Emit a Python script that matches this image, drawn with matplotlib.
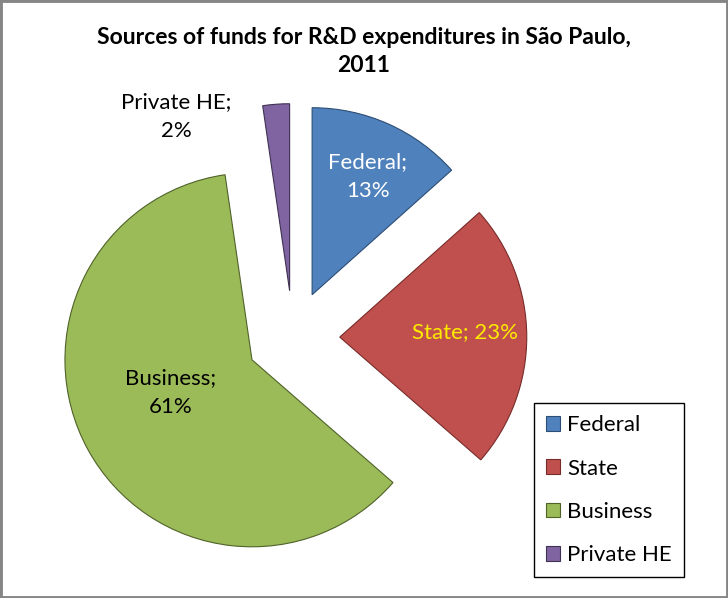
import numpy as np
import matplotlib.pyplot as plt
from matplotlib.patches import Rectangle

plt.rcParams['font.family'] = ['Lato', 'DejaVu Sans']

# data
categories = ["Federal", "State", "Business", "Private HE"]
shares = [13.4, 23.0, 61.3, 2.3]
separators = ["\n", " ", "\n", "\n"]  # how each data label breaks
title = "Sources of funds for R&D expenditures in São Paulo,\n2011"

colors = ["#4F81BD", "#C0504D", "#9BBB59", "#8064A2"]
edge_colors = ["#2C4D75", "#772C2A", "#4F6228", "#3F3151"]
label_colors = ["white", "#FFEB00", "black", "black"]
# label placement: distance from the wedge tip (in radii), angle shift (deg, ccw)
label_dist = [0.70, 0.67, 0.47, 1.11]
label_shift = [-1.0, 2.0, -6.5, 29.0]

W, H = 728, 598
R = 187.0            # pie radius in pixels
cx, cy = 293.0, 337.4  # pie centre in pixels (from top-left)

fig = plt.figure(figsize=(W / 100, H / 100), dpi=100)
ax = fig.add_axes([0, 0, 1, 1])

wedges, _ = ax.pie(shares, radius=1, explode=[0.25] * len(shares),
                   startangle=90, counterclock=False, colors=colors)
for w, ec in zip(wedges, edge_colors):
    w.set_edgecolor(ec)
    w.set_linewidth(0.8)

ax.set_xlim(-cx / R, (W - cx) / R)
ax.set_ylim(-(H - cy) / R, cy / R)
ax.set_aspect('auto')
ax.axis('off')

for w, cat, val, sep, col, d, sh in zip(wedges, categories, shares, separators,
                                        label_colors, label_dist, label_shift):
    mid = np.deg2rad(0.5 * (w.theta1 + w.theta2) + sh)
    x0, y0 = w.center
    ax.text(x0 + d * np.cos(mid), y0 + d * np.sin(mid),
            f"{cat};{sep}{round(val)}%", ha='center', va='center',
            color=col, fontsize=16, linespacing=1.55)

fig.text(0.5, 1 - 51.5 / H, title, ha='center', va='center',
         fontsize=16.5, fontweight='bold', linespacing=1.45)

leg = fig.legend(wedges, categories, loc='upper left',
                 bbox_to_anchor=(534 / W, 1 - 403 / H), borderaxespad=0,
                 fancybox=False, edgecolor='black', framealpha=1,
                 fontsize=16, handlelength=0.63, handleheight=0.63,
                 handletextpad=0.3, labelspacing=1.05, borderpad=0.55)
leg.get_frame().set_linewidth(1.0)

# grey outer border of the chart area
fig.patches.append(Rectangle((0, 0), 1, 1, transform=fig.transFigure,
                             fill=False, edgecolor='#868686', linewidth=3.5))

fig.savefig('out.png', dpi=100)
